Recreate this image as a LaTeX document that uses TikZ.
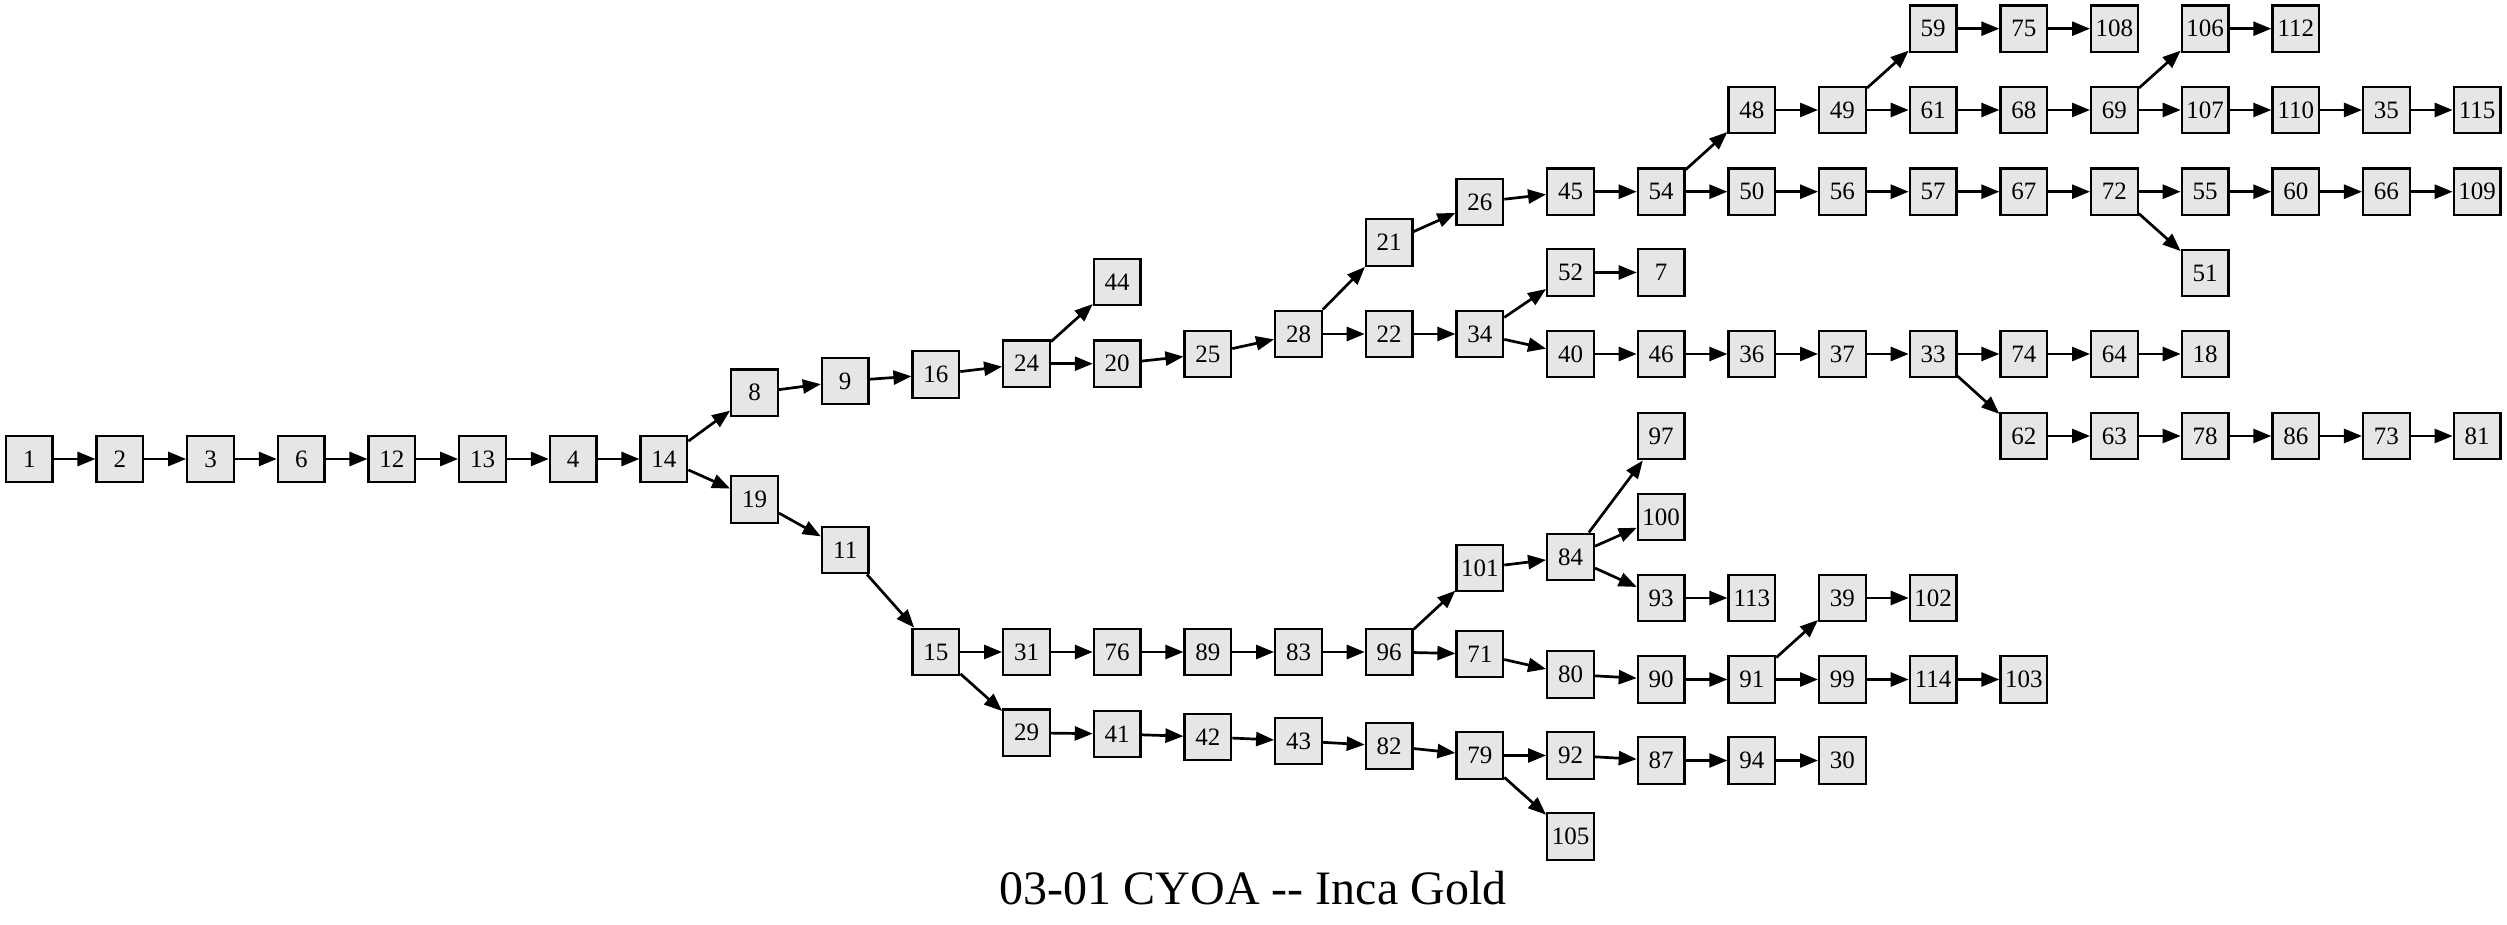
\documentclass[tikz,border=0pt]{standalone}
\usepackage{fontspec}
\setmainfont{Liberation Serif}
\usepackage{tikz}
\usetikzlibrary{arrows.meta}
\definecolor{boxFill}{RGB}{230, 230, 230}
\definecolor{lineColor}{RGB}{0, 0, 0}
\tikzset{
    cyoa_box/.style={
        rectangle,
        draw=lineColor,
        line width=1.15pt,
        fill=boxFill,
        text=lineColor,
        inner sep=0pt,
        minimum width=23.3pt,
        minimum height=23.3pt,
        font=\fontsize{12.5}{14}\selectfont
    },
    cyoa_edge/.style={
        -{Triangle[length=9pt, width=7pt]},
        line width=1.35pt,
        draw=lineColor
    },
    title_text/.style={
        text=lineColor,
        inner sep=0pt,
        font=\fontsize{24}{28}\selectfont
    }
}

\begin{document}
\begin{tikzpicture}[x=45.33pt, y=-0.5pt, node distance=45.33pt]
    \useasboundingbox (-0.323,0) rectangle (27.33,925);

    \node[cyoa_box] (n1) at (0,459) {1};
    \node[cyoa_box, right of=n1] (n2) {2};
    \node[cyoa_box, right of=n2] (n3) {3};
    \node[cyoa_box, right of=n3] (n6) {6};
    \node[cyoa_box, right of=n6] (n12) {12};
    \node[cyoa_box, right of=n12] (n13) {13};
    \node[cyoa_box, right of=n13] (n4) {4};
    \node[cyoa_box, right of=n4] (n14) {14};
    \node[cyoa_box] (n8) at (8,392.8) {8};
    \node[cyoa_box] (n19) at (8,499.5) {19};
    \node[cyoa_box] (n9) at (9,381) {9};
    \node[cyoa_box] (n11) at (9,550) {11};
    \node[cyoa_box] (n16) at (10,374.5) {16};
    \node[cyoa_box] (n15) at (10,652) {15};
    \node[cyoa_box] (n24) at (11,363.7) {24};
    \node[cyoa_box] (n44) at (12,282) {44};
    \node[cyoa_box, right of=n24] (n20) {20};
    \node[cyoa_box] (n25) at (13,354) {25};
    \node[cyoa_box] (n28) at (14,334) {28};
    \node[cyoa_box] (n21) at (15,242.5) {21};
    \node[cyoa_box, right of=n28] (n22) {22};
    \node[cyoa_box] (n26) at (16,202) {26};
    \node[cyoa_box, right of=n22] (n34) {34};
    \node[cyoa_box] (n45) at (17,191.7) {45};
    \node[cyoa_box] (n52) at (17,272.5) {52};
    \node[cyoa_box] (n40) at (17,354) {40};
    \node[cyoa_box, right of=n45] (n54) {54};
    \node[cyoa_box, right of=n52] (n7) {7};
    \node[cyoa_box, right of=n40] (n46) {46};
    \node[cyoa_box] (n48) at (19,110) {48};
    \node[cyoa_box, right of=n54] (n50) {50};
    \node[cyoa_box, right of=n46] (n36) {36};
    \node[cyoa_box, right of=n48] (n49) {49};
    \node[cyoa_box, right of=n50] (n56) {56};
    \node[cyoa_box, right of=n36] (n37) {37};
    \node[cyoa_box] (n59) at (21,28.7) {59};
    \node[cyoa_box, right of=n49] (n61) {61};
    \node[cyoa_box, right of=n56] (n57) {57};
    \node[cyoa_box, right of=n37] (n33) {33};
    \node[cyoa_box, right of=n59] (n75) {75};
    \node[cyoa_box, right of=n61] (n68) {68};
    \node[cyoa_box, right of=n57] (n67) {67};
    \node[cyoa_box, right of=n33] (n74) {74};
    \node[cyoa_box] (n62) at (22,436) {62};
    \node[cyoa_box, right of=n75] (n108) {108};
    \node[cyoa_box, right of=n68] (n69) {69};
    \node[cyoa_box, right of=n67] (n72) {72};
    \node[cyoa_box, right of=n74] (n64) {64};
    \node[cyoa_box, right of=n62] (n63) {63};
    \node[cyoa_box] (n106) at (24,28.7) {106};
    \node[cyoa_box, right of=n69] (n107) {107};
    \node[cyoa_box, right of=n72] (n55) {55};
    \node[cyoa_box] (n51) at (24,273) {51};
    \node[cyoa_box, right of=n64] (n18) {18};
    \node[cyoa_box, right of=n63] (n78) {78};
    \node[cyoa_box, right of=n106] (n112) {112};
    \node[cyoa_box, right of=n107] (n110) {110};
    \node[cyoa_box, right of=n55] (n60) {60};
    \node[cyoa_box, right of=n78] (n86) {86};
    \node[cyoa_box, right of=n110] (n35) {35};
    \node[cyoa_box, right of=n60] (n66) {66};
    \node[cyoa_box, right of=n86] (n73) {73};
    \node[cyoa_box, right of=n35] (n115) {115};
    \node[cyoa_box, right of=n66] (n109) {109};
    \node[cyoa_box, right of=n73] (n81) {81};

    \node[cyoa_box, right of=n15] (n31) {31};
    \node[cyoa_box] (n29) at (11,732.8) {29};
    \node[cyoa_box, right of=n31] (n76) {76};
    \node[cyoa_box] (n41) at (12,734) {41};
    \node[cyoa_box, right of=n76] (n89) {89};
    \node[cyoa_box] (n42) at (13,737) {42};
    \node[cyoa_box, right of=n89] (n83) {83};
    \node[cyoa_box] (n43) at (14,741) {43};
    \node[cyoa_box, right of=n83] (n96) {96};
    \node[cyoa_box] (n82) at (15,746) {82};
    \node[cyoa_box] (n101) at (16,568) {101};
    \node[cyoa_box] (n71) at (16,654) {71};
    \node[cyoa_box] (n79) at (16,755.5) {79};
    \node[cyoa_box] (n84) at (17,557) {84};
    \node[cyoa_box] (n80) at (17,674.5) {80};
    \node[cyoa_box, right of=n79] (n92) {92};
    \node[cyoa_box] (n105) at (17,836.5) {105};
    \node[cyoa_box] (n97) at (18,436) {97};
    \node[cyoa_box] (n100) at (18,517) {100};
    \node[cyoa_box] (n93) at (18,598) {93};
    \node[cyoa_box] (n90) at (18,679.5) {90};
    \node[cyoa_box] (n87) at (18,760.5) {87};
    \node[cyoa_box, right of=n93] (n113) {113};
    \node[cyoa_box, right of=n90] (n91) {91};
    \node[cyoa_box, right of=n87] (n94) {94};
    \node[cyoa_box] (n39) at (20,598) {39};
    \node[cyoa_box, right of=n91] (n99) {99};
    \node[cyoa_box, right of=n94] (n30) {30};
    \node[cyoa_box, right of=n39] (n102) {102};
    \node[cyoa_box, right of=n99] (n114) {114};
    \node[cyoa_box, right of=n114] (n103) {103};

    \node[title_text, anchor=base] (title) at (13.5,905) {03-01 CYOA \mbox{-}\mbox{-} Inca Gold};

    \draw[cyoa_edge]
        (n1) edge (n2)
        (n2) edge (n3)
        (n3) edge (n6)
        (n6) edge (n12)
        (n12) edge (n13)
        (n13) edge (n4)
        (n4) edge (n14)
        (n14) edge (n8)
        (n14) edge (n19)
        (n8) edge (n9)
        (n9) edge (n16)
        (n16) edge (n24)
        (n24) edge (n44)
        (n24) edge (n20)
        (n20) edge (n25)
        (n25) edge (n28)
        (n28) edge (n21)
        (n28) edge (n22)
        (n21) edge (n26)
        (n26) edge (n45)
        (n45) edge (n54)
        (n54) edge (n48)
        (n54) edge (n50)
        (n48) edge (n49)
        (n49) edge (n59)
        (n49) edge (n61)
        (n59) edge (n75)
        (n75) edge (n108)
        (n61) edge (n68)
        (n68) edge (n69)
        (n69) edge (n106)
        (n69) edge (n107)
        (n106) edge (n112)
        (n107) edge (n110)
        (n110) edge (n35)
        (n35) edge (n115)
        (n50) edge (n56)
        (n56) edge (n57)
        (n57) edge (n67)
        (n67) edge (n72)
        (n72) edge (n55)
        (n72) edge (n51)
        (n55) edge (n60)
        (n60) edge (n66)
        (n66) edge (n109)
        (n22) edge (n34)
        (n34) edge (n52)
        (n34) edge (n40)
        (n52) edge (n7)
        (n40) edge (n46)
        (n46) edge (n36)
        (n36) edge (n37)
        (n37) edge (n33)
        (n33) edge (n74)
        (n33) edge (n62)
        (n74) edge (n64)
        (n64) edge (n18)
        (n62) edge (n63)
        (n63) edge (n78)
        (n78) edge (n86)
        (n86) edge (n73)
        (n73) edge (n81)
        (n19) edge (n11)
        (n11) edge (n15)
        (n15) edge (n31)
        (n15) edge (n29)
        (n31) edge (n76)
        (n76) edge (n89)
        (n89) edge (n83)
        (n83) edge (n96)
        (n96) edge (n101)
        (n96) edge (n71)
        (n101) edge (n84)
        (n84) edge (n97)
        (n84) edge (n100)
        (n84) edge (n93)
        (n93) edge (n113)
        (n71) edge (n80)
        (n80) edge (n90)
        (n90) edge (n91)
        (n91) edge (n39)
        (n91) edge (n99)
        (n39) edge (n102)
        (n99) edge (n114)
        (n114) edge (n103)
        (n29) edge (n41)
        (n41) edge (n42)
        (n42) edge (n43)
        (n43) edge (n82)
        (n82) edge (n79)
        (n79) edge (n92)
        (n79) edge (n105)
        (n92) edge (n87)
        (n87) edge (n94)
        (n94) edge (n30);
\end{tikzpicture}
\end{document}
